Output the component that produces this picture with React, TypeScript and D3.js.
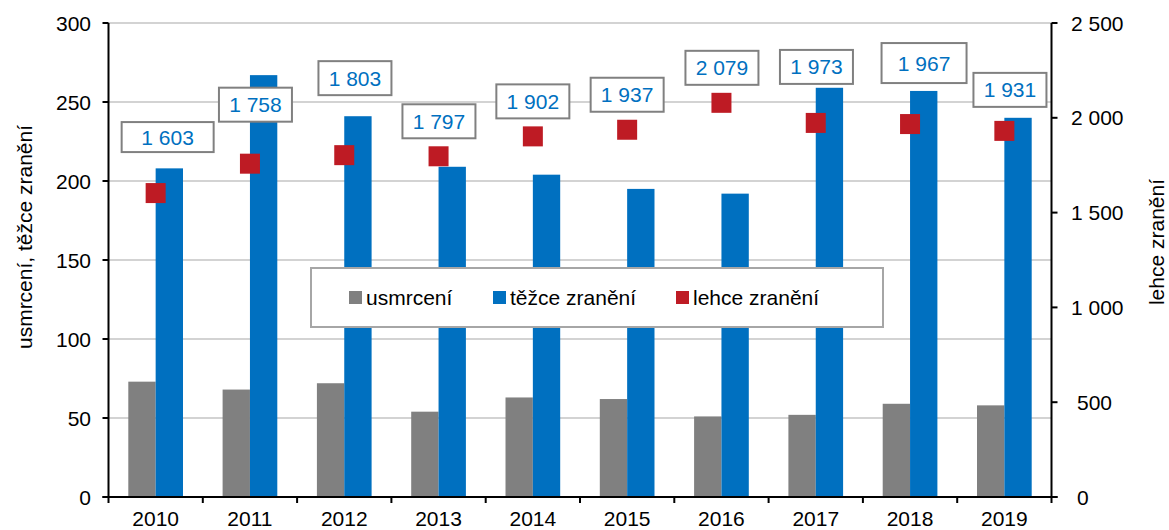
import React from "react";
import * as d3 from "d3";

const years = ["2010", "2011", "2012", "2013", "2014", "2015", "2016", "2017", "2018", "2019"];
const killed = [73, 68, 72, 54, 63, 62, 51, 52, 59, 58];
const seriouslyInjured = [208, 267, 241, 209, 204, 195, 192, 259, 257, 240];
const lightlyInjured = [1603, 1758, 1803, 1797, 1902, 1937, 2079, 1973, 1967, 1931];
const leftTicks = [0, 50, 100, 150, 200, 250, 300];
const rightTicks = [0, 500, 1000, 1500, 2000, 2500];

// manual label placement (pixels relative to the marker), as in the reference
const labelDx = [12, 5.5, 10.7, 0.4, 0, 0, 0.5, 0.7, 14, 5.6];
const labelDy = [56, 59, 77, 35, 35, 35, 35, 56, 61, 41];
const labelW = [92, 73, 73, 73, 73, 73, 73, 73, 85, 73];
const labelH = [30, 34, 34, 34, 34, 34, 34, 34, 40, 34];

const W = 1169;
const H = 530;
const left = 108.5;
const right = 1051.5;
const top = 23;
const bottom = 497;
const font = "'Liberation Sans', Arial, sans-serif";
const GRAY = "#808080";
const BLUE = "#0070C0";
const RED = "#BE1B24";

const fmt = (v: number) => {
  const s = String(v);
  return s.length > 3 ? s.slice(0, s.length - 3) + " " + s.slice(-3) : s;
};

export default function App() {
  const x = d3.scaleBand<string>().domain(years).range([left, right]).padding(0);
  const yL = d3.scaleLinear().domain([0, 300]).range([bottom, top]);
  const yR = d3.scaleLinear().domain([0, 2500]).range([bottom, top]);
  const bw = x.bandwidth() * 0.29;
  const cx = (y: string) => (x(y) as number) + x.bandwidth() / 2;

  return (
    <svg width={W} height={H} style={{ position: "absolute", left: 0, top: 0, fontFamily: font }}>
      <rect width={W} height={H} fill="#fff" />
      {leftTicks.filter((t) => t > 0).map((t) => (
        <line key={"g" + t} x1={left} x2={right} y1={yL(t)} y2={yL(t)} stroke="#C4C4C4" strokeWidth={1.5} />
      ))}
      {years.map((yr, i) => (
        <g key={"b" + yr}>
          <rect x={cx(yr) - bw} y={yL(killed[i])} width={bw} height={bottom - yL(killed[i])} fill={GRAY} />
          <rect x={cx(yr)} y={yL(seriouslyInjured[i])} width={bw} height={bottom - yL(seriouslyInjured[i])} fill={BLUE} />
        </g>
      ))}
      {years.map((yr, i) => (
        <rect key={"m" + yr} x={cx(yr) - 10} y={yR(lightlyInjured[i]) - 10} width={20} height={20} fill={RED} />
      ))}
      {years.map((yr, i) => {
        const lx = cx(yr) + labelDx[i];
        const ly = yR(lightlyInjured[i]) - labelDy[i];
        return (
          <g key={"l" + yr}>
            <rect x={lx - labelW[i] / 2} y={ly - labelH[i] / 2} width={labelW[i]} height={labelH[i]} fill="#fff" stroke="#808080" strokeWidth={2} />
            <text x={lx} y={ly + 7.5} textAnchor="middle" fontSize={21} fill={BLUE}>{fmt(lightlyInjured[i])}</text>
          </g>
        );
      })}
      {/* axes */}
      <line x1={left} x2={left} y1={top} y2={bottom} stroke="#000" strokeWidth={2} />
      <line x1={right} x2={right} y1={top} y2={bottom} stroke="#000" strokeWidth={2} />
      <line x1={left - 6} x2={right + 6} y1={bottom} y2={bottom} stroke="#000" strokeWidth={2} />
      {leftTicks.map((t) => (
        <g key={"lt" + t}>
          <line x1={left - 6} x2={left} y1={yL(t)} y2={yL(t)} stroke="#000" strokeWidth={2} />
          <text x={91} y={yL(t) + 7.5} textAnchor="end" fontSize={21} fill="#000">{t}</text>
        </g>
      ))}
      {rightTicks.map((t) => (
        <g key={"rt" + t}>
          <line x1={right} x2={right + 6} y1={yR(t)} y2={yR(t)} stroke="#000" strokeWidth={2} />
          <text x={t >= 1000 ? 1071 : 1077} y={yR(t) + 7.5} textAnchor="start" fontSize={21} fill="#000">{fmt(t)}</text>
        </g>
      ))}
      {years.map((yr) => (
        <line key={"xt" + yr} x1={x(yr) as number} x2={x(yr) as number} y1={bottom} y2={bottom + 6} stroke="#000" strokeWidth={2} />
      ))}
      <line x1={right} x2={right} y1={bottom} y2={bottom + 6} stroke="#000" strokeWidth={2} />
      {years.map((yr) => (
        <text key={"xl" + yr} x={cx(yr)} y={526} textAnchor="middle" fontSize={21} fill="#000">{yr}</text>
      ))}
      <text transform="translate(32,237) rotate(-90)" textAnchor="middle" fontSize={21} fill="#000">usmrcení, těžce zranění</text>
      <text transform="translate(1164,242) rotate(-90)" textAnchor="middle" fontSize={21} fill="#000">lehce zranění</text>
      {/* legend */}
      <rect x={311} y={268} width={572} height={59} fill="#fff" stroke="#A6A6A6" strokeWidth={2} />
      {[
        { name: "usmrcení", color: GRAY, x: 349 },
        { name: "těžce zranění", color: BLUE, x: 493 },
        { name: "lehce zranění", color: RED, x: 676 },
      ].map((d) => (
        <g key={d.name}>
          <rect x={d.x} y={291} width={13} height={13} fill={d.color} />
          <text x={d.x + 17} y={305} fontSize={21} fill="#000">{d.name}</text>
        </g>
      ))}
    </svg>
  );
}
